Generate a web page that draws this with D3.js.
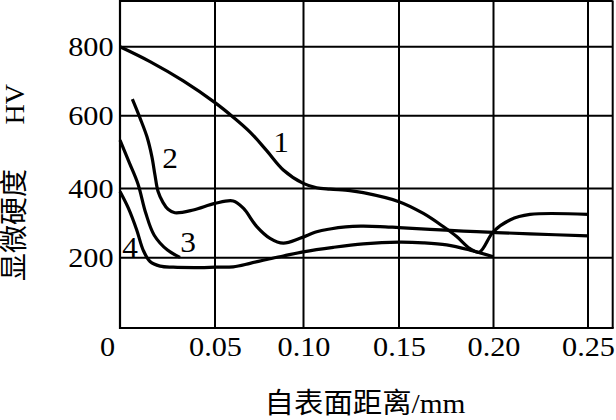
<!DOCTYPE html>
<html><head><meta charset="utf-8">
<script src="https://cdn.jsdelivr.net/npm/d3@7"></script>
<style>
html,body{margin:0;padding:0;background:#fff;}
svg{display:block;}
text{font-family:"Liberation Serif","Times New Roman","Noto Sans CJK SC",serif;fill:#000;}
</style></head>
<body>
<svg id="chart" width="616" height="420"></svg>
<script>
// ---- data ----
const xTicks = [0, 0.05, 0.10, 0.15, 0.20, 0.25];
const xTickLabels = ["0", "0.05", "0.10", "0.15", "0.20", "0.25"];
const yTicks = [200, 400, 600, 800];
const yTickLabels = ["200", "400", "600", "800"];
const seriesNames = ["1", "2", "3", "4"];

const curve1X = [0, 0.0158, 0.0333, 0.05, 0.0603, 0.0698, 0.0792, 0.0886, 0.0999, 0.1069, 0.1139, 0.1243, 0.1313, 0.15, 0.1629, 0.1734, 0.1805, 0.1876, 0.1925, 0.1999, 0.2087, 0.2193, 0.25];
const curve1Y = [800, 757, 701, 638, 596, 555, 504, 451, 414, 402, 398, 394, 388, 362, 328, 290, 261, 226, 216, 275, 309, 325, 325];

const curve2X = [0.0065, 0.0105, 0.0142, 0.0168, 0.0184, 0.0200, 0.0226, 0.0253, 0.0289, 0.0386, 0.05, 0.0603, 0.0660, 0.0736, 0.0811, 0.0886, 0.0980, 0.1069, 0.1139, 0.1221, 0.1300, 0.1401, 0.15, 0.1664, 0.1840, 0.1999, 0.2193, 0.25];
const curve2Y = [648, 594, 542, 487, 437, 392, 360, 340, 330, 338, 357, 364, 343, 290, 256, 242, 256, 275, 283, 289, 291, 290, 287, 282, 277, 273, 269, 263];

const curve3X = [0, 0.005, 0.0095, 0.0135, 0.018, 0.025, 0.0316];
const curve3Y = [533, 470, 412, 330, 265, 222, 201];

const curve4X = [0, 0.0044, 0.0088, 0.0122, 0.0158, 0.0211, 0.028, 0.0421, 0.05, 0.0603, 0.0698, 0.0792, 0.0886, 0.0999, 0.1156, 0.1313, 0.15, 0.1629, 0.1752, 0.1876, 0.1999];
const curve4Y = [391, 343, 280, 222, 189, 176, 173, 172, 173, 174, 184, 195, 205, 217, 230, 240, 245, 243, 237, 222, 203];

// label anchor points (data units)
const labelX = [0.0873, 0.0263, 0.0358, 0.0053];
const labelY = [528, 483, 245, 232];

// ---- scales ----
const x = d3.scaleLinear().domain(xTicks).range([120, 215, 303.5, 399, 493.5, 588]);
const y = d3.scaleLinear().domain([0, 200, 400, 600, 800]).range([328, 257.7, 188.5, 115.7, 46.7]);
const xMax = x.invert(612.7);
const yMax = 934;

const svg = d3.select("#chart");
const stretch = "scale(1.08,1)";

// grid + frame
const g = svg.append("g");
const gridV = xTicks.slice(1).concat([xMax]);
g.selectAll("line.gv").data(gridV).enter().append("line")
  .attr("x1", d => x(d)).attr("x2", d => x(d))
  .attr("y1", y(0)).attr("y2", Math.max(0, y(yMax)))
  .attr("stroke", "#000").attr("stroke-width", 2);
const gridH = yTicks.concat([yMax]);
g.selectAll("line.gh").data(gridH).enter().append("line")
  .attr("x1", x(0)).attr("x2", x(xMax))
  .attr("y1", d => Math.max(1, y(d))).attr("y2", d => Math.max(1, y(d)))
  .attr("stroke", "#000").attr("stroke-width", 2);
g.append("line").attr("x1", x(0)).attr("x2", x(0)).attr("y1", 0).attr("y2", y(0) + 1)
  .attr("stroke", "#000").attr("stroke-width", 2.2);
g.append("line").attr("x1", x(0) - 1).attr("x2", x(xMax)+1).attr("y1", y(0)).attr("y2", y(0))
  .attr("stroke", "#000").attr("stroke-width", 2.2);

// axes labels via d3 axis
const xAxis = d3.axisBottom(x).tickValues(xTicks)
  .tickFormat((d, i) => xTickLabels[i]).tickSize(0).tickPadding(8);
const xa = svg.append("g").attr("transform", `translate(0,${y(0)})`).call(xAxis);
xa.select(".domain").remove();
xa.selectAll("text").attr("font-size", 28).attr("font-family", "Liberation Serif")
  .attr("transform", stretch);
xa.selectAll(".tick").filter(d => d === 0).select("text").attr("x", -12);

const yAxis = d3.axisLeft(y).tickValues(yTicks)
  .tickFormat((d, i) => yTickLabels[i]).tickSize(0).tickPadding(6);
const ya = svg.append("g").attr("transform", `translate(${x(0)},0)`).call(yAxis);
ya.select(".domain").remove();
ya.selectAll("text").attr("font-size", 28).attr("font-family", "Liberation Serif")
  .attr("dy", "0.33em").attr("transform", stretch);

// curves
const line = d3.line().x(d => x(d[0])).y(d => y(d[1])).curve(d3.curveCatmullRom.alpha(0.5));
const series = [[curve1X, curve1Y], [curve2X, curve2Y], [curve3X, curve3Y], [curve4X, curve4Y]];
svg.selectAll("path.curve").data(series).enter().append("path")
  .attr("class", "curve")
  .attr("d", s => line(s[0].map((v, i) => [v, s[1][i]])))
  .attr("fill", "none").attr("stroke", "#000").attr("stroke-width", 3.2)
  .attr("stroke-linejoin", "round").attr("stroke-linecap", "butt");

// curve labels
svg.selectAll("text.lbl").data(seriesNames).enter().append("text")
  .attr("class", "lbl")
  .attr("transform", (d, i) => `translate(${x(labelX[i])},${y(labelY[i])}) ${stretch}`)
  .attr("text-anchor", "middle").attr("dy", "0.35em")
  .attr("font-size", 29).text(d => d);

// axis titles
svg.append("text")
  .attr("transform", `translate(365,413) scale(1.05,1)`)
  .attr("text-anchor", "middle").attr("font-size", 28)
  .text("自表面距离/mm");

svg.append("text")
  .attr("transform", `translate(24,281) rotate(-90)`)
  .attr("text-anchor", "start").attr("font-size", 28)
  .text("显微硬度");
svg.append("text")
  .attr("transform", `translate(24,84) rotate(-90)`)
  .attr("text-anchor", "end").attr("font-size", 28)
  .text("HV");
</script>
</body></html>
